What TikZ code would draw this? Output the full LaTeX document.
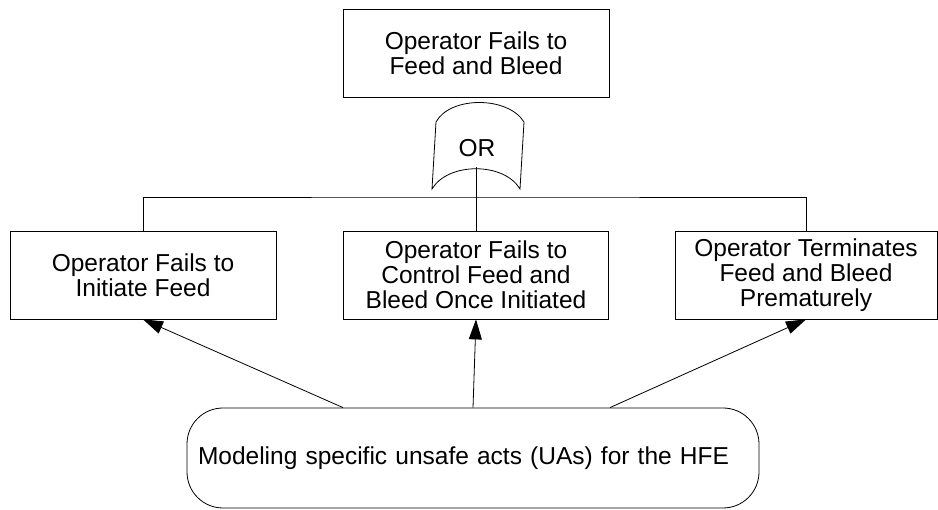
\documentclass[tikz,border=0pt]{standalone}
\usepackage{fontspec}
\setmainfont{Liberation Sans}
\usetikzlibrary{arrows.meta}
\tikzset{
  event/.style={draw, line width=0.8pt, align=center, minimum height=88pt, inner sep=2pt,
    font=\fontsize{24.5}{25}\selectfont},
  actbox/.style={draw, line width=0.8pt, rounded corners=36pt, minimum width=572pt, minimum height=100pt,
    text width=550pt, inner xsep=11pt, align=left, font=\fontsize{24.5}{25}\selectfont},
  push/.style={line width=0.8pt, -{Triangle[length=20pt,width=13pt]}}
}
\begin{document}
\begin{tikzpicture}[x=1pt, y=-1pt]
    \useasboundingbox (0,0) rectangle (938,510);
    \node [event, minimum width=266pt] (top) at (476,53.5) {Operator Fails to\\Feed and Bleed};
    \node [event, minimum width=266pt] (left) at (143,275) {Operator Fails to\\Initiate Feed};
    \node [event, minimum width=265pt] (mid) at (476,275) {Operator Fails to\\Control Feed and\\Bleed Once Initiated};
    \node [event, minimum width=262pt] (right) at (806,275) {Operator Terminates\\Feed and Bleed\\Prematurely};
    \node [actbox] (uas) at (473,458) {Modeling specific unsafe acts (UAs) for the HFE};
    % OR gate
    \draw [line width=0.8pt] (436,122) coordinate (gtl) .. controls (450,96) and (508,96) .. (524,122) coordinate (gtr)
      -- (520,189) coordinate (gbr) .. controls (504,162) and (448,162) .. (432,189) coordinate (gbl) -- cycle;
    \node [font=\fontsize{24.5}{25}\selectfont] (gate) at (477,148) {OR};
    \coordinate (orin) at (476,167);
    \coordinate (bus) at (476,197);
    \draw [line width=0.8pt] (orin) -- (mid.north);
    \draw [line width=0.8pt] (left.north) |- (bus) -| (right.north);
    % unsafe acts
    \draw [push] ([xshift=-130pt]uas.north) -- (left.south);
    \draw [push] (uas.north) -- (mid.south);
    \draw [push] ([xshift=137pt]uas.north) -- (right.south);
  \end{tikzpicture}
\end{document}
